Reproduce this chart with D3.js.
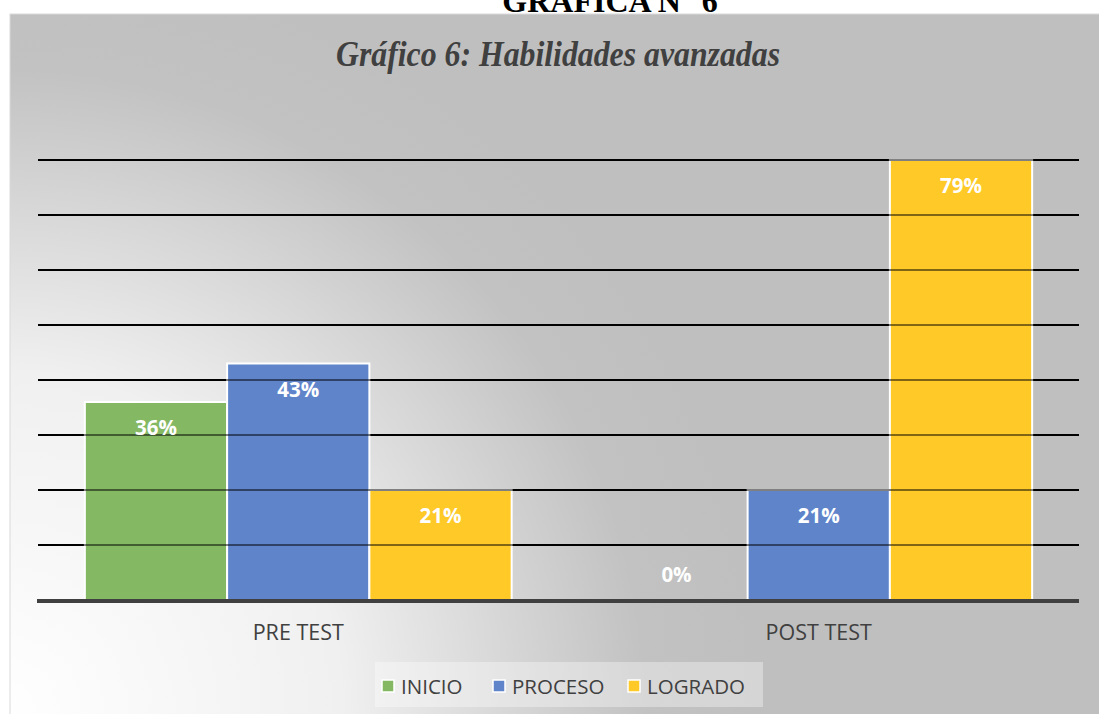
<!DOCTYPE html>
<html>
<head>
<meta charset="utf-8">
<script src="https://cdn.jsdelivr.net/npm/d3@7"></script>
<style>
  body { margin: 0; background: #fff; }
  svg { display: block; }
</style>
</head>
<body>
<svg width="1099" height="714"></svg>
<script>
// data
var categories = ["PRE TEST", "POST TEST"];
var series = ["INICIO", "PROCESO", "LOGRADO"];
var colors = ["#84b862", "#5f84ca", "#ffc928"];
// bar heights (fraction) and the labels printed on them
var preValues = [0.36, 0.43, 0.20];
var postValues = [0, 0.20, 0.80];
var preLabels = ["36%", "43%", "21%"];
var postLabels = ["0%", "21%", "79%"];
var gridTicks = [0.1, 0.2, 0.3, 0.4, 0.5, 0.6, 0.7, 0.8];

var svg = d3.select("svg"),
  width = +svg.attr("width"),
  height = +svg.attr("height");

//background gradient, light at bottom left
var defs = svg.append("defs");
var grad = defs.append("radialGradient")
  .attr("id", "bg")
  .attr("gradientUnits", "userSpaceOnUse")
  .attr("cx", 0).attr("cy", 714).attr("r", 760);
grad.append("stop").attr("offset", 0).attr("stop-color", "#ffffff");
grad.append("stop").attr("offset", 0.45).attr("stop-color", "#f0f0f0");
grad.append("stop").attr("offset", 0.85).attr("stop-color", "#c2c2c2");
grad.append("stop").attr("offset", 1).attr("stop-color", "#bfbfbf");

svg.append("rect")
  .attr("x", 10).attr("y", 14)
  .attr("width", width - 9).attr("height", height - 13)
  .attr("fill", "url(#bg)")
  .attr("stroke", "#d9d9d9").attr("stroke-width", 1);

//heading cut off at the top, as in the source page
svg.append("text")
  .attr("x", 610).attr("y", 12)
  .attr("text-anchor", "middle")
  .style("font-family", "'Liberation Serif', serif")
  .style("font-weight", "bold")
  .style("font-size", "32px")
  .attr("fill", "#000")
  .text("GRÁFICA N° 6");

svg.append("text")
  .attr("x", 558).attr("y", 66)
  .attr("text-anchor", "middle")
  .attr("textLength", 444)
  .attr("lengthAdjust", "spacingAndGlyphs")
  .style("font-family", "'Liberation Serif', serif")
  .style("font-weight", "bold")
  .style("font-style", "italic")
  .style("font-size", "35px")
  .attr("fill", "#404040")
  .text("Gráfico 6: Habilidades avanzadas");

//scales
var x0 = d3.scaleBand()
  .domain(categories)
  .range([38, 1079])
  .paddingInner(0.18)
  .paddingOuter(0.09);

var x1 = d3.scaleBand()
  .domain(series)
  .range([0, x0.bandwidth()]);

var y = d3.scaleLinear()
  .domain([0, 0.8])
  .range([600, 160]);

var rows = [];
categories.forEach(function(c, ci) {
  var vals = ci == 0 ? preValues : postValues;
  var labs = ci == 0 ? preLabels : postLabels;
  series.forEach(function(s, si) {
    rows.push({cat: c, ser: s, value: vals[si], label: labs[si], color: colors[si]});
  });
});

//gridlines behind the bars
var g = svg.append("g");
g.selectAll("line.grid")
  .data(gridTicks)
  .enter().append("line")
  .attr("class", "grid")
  .attr("x1", 38).attr("x2", 1079)
  .attr("y1", function(d) { return y(d); })
  .attr("y2", function(d) { return y(d); })
  .attr("stroke", "#000").attr("stroke-width", 2);

//bars
g.selectAll("rect.bar")
  .data(rows.filter(function(d) { return d.value > 0; }))
  .enter().append("rect")
  .attr("class", "bar")
  .attr("x", function(d) { return x0(d.cat) + x1(d.ser); })
  .attr("y", function(d) { return y(d.value); })
  .attr("width", x1.bandwidth())
  .attr("height", function(d) { return y(0) - y(d.value); })
  .attr("fill", function(d) { return d.color; })
  .attr("stroke", "#fff").attr("stroke-width", 2);

//thin gridlines that show through the bars
g.selectAll("line.thin")
  .data(gridTicks)
  .enter().append("line")
  .attr("class", "thin")
  .attr("x1", 38).attr("x2", 1079)
  .attr("y1", function(d) { return y(d); })
  .attr("y2", function(d) { return y(d); })
  .attr("stroke", "#000").attr("stroke-width", 1);

//baseline
g.append("line")
  .attr("x1", 37).attr("x2", 1079)
  .attr("y1", y(0) + 1).attr("y2", y(0) + 1)
  .attr("stroke", "#404040").attr("stroke-width", 4);

//data labels
g.selectAll("text.lab")
  .data(rows)
  .enter().append("text")
  .attr("class", "lab")
  .attr("x", function(d) { return x0(d.cat) + x1(d.ser) + x1.bandwidth() / 2; })
  .attr("y", function(d) { return d.value > 0 ? y(d.value) + 33 : y(0) - 18; })
  .attr("text-anchor", "middle")
  .style("font-family", "'Open Sans', sans-serif")
  .style("font-weight", "bold")
  .style("font-size", "20.5px")
  .attr("fill", "#fff")
  .text(function(d) { return d.label; });

//category axis labels
var xAxis = d3.axisBottom(x0).tickSize(0).tickPadding(0);
var ax = svg.append("g")
  .attr("transform", "translate(0,640)")
  .call(xAxis);
ax.select(".domain").remove();
ax.selectAll("text")
  .attr("dy", 0)
  .style("font-family", "'Open Sans', sans-serif")
  .style("font-size", "21.5px")
  .attr("fill", "#404040");

//legend
var legend = svg.append("g");
legend.append("rect")
  .attr("x", 375).attr("y", 662)
  .attr("width", 388).attr("height", 45)
  .attr("fill", "#fff").attr("fill-opacity", 0.35);

var legendX = [382, 493, 628];
var item = legend.selectAll("g.item")
  .data(series)
  .enter().append("g")
  .attr("class", "item")
  .attr("transform", function(d, i) { return "translate(" + legendX[i] + ",680)"; });

item.append("rect")
  .attr("width", 12).attr("height", 12)
  .attr("fill", function(d, i) { return colors[i]; })
  .attr("stroke", "#fff").attr("stroke-width", 1.5);

item.append("text")
  .attr("x", 19).attr("y", 14)
  .style("font-family", "'Open Sans', sans-serif")
  .style("font-size", "20.5px")
  .attr("fill", "#404040")
  .text(function(d) { return d; });
</script>
</body>
</html>
